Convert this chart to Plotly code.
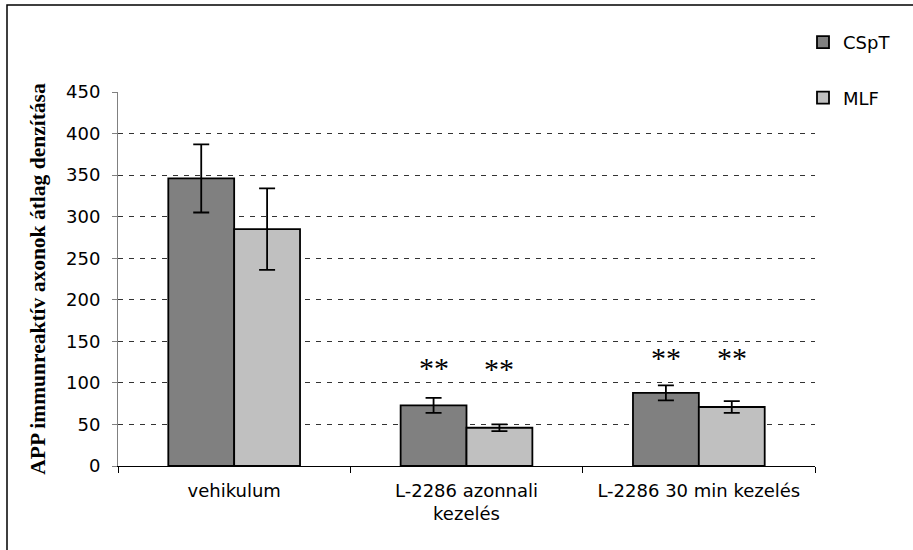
import plotly.graph_objects as go

categories = ["vehikulum", "L-2286 azonnali<br>kezelés", "L-2286 30 min kezelés"]
cspt_values = [346, 73, 88]
cspt_errors = [41, 9, 9]
mlf_values = [285, 46, 71]
mlf_errors = [49, 4, 7]
star_labels_cspt = ["", "**", "**"]
star_labels_mlf = ["", "**", "**"]
star_y_cspt = [None, 119, 130]
star_y_mlf = [None, 117, 131]
y_ticks = [0, 50, 100, 150, 200, 250, 300, 350, 400, 450]

fig = go.Figure()
fig.add_trace(go.Bar(
    name="CSpT", x=categories, y=cspt_values,
    marker=dict(color="#808080", line=dict(color="#000000", width=1.8)),
    error_y=dict(type="data", array=cspt_errors, color="#000000", thickness=1.8, width=8),
    legendgroup="a",
))
fig.add_trace(go.Bar(
    name="MLF", x=categories, y=mlf_values,
    marker=dict(color="#C0C0C0", line=dict(color="#000000", width=1.8)),
    error_y=dict(type="data", array=mlf_errors, color="#000000", thickness=1.8, width=8),
    legendgroup="b",
))

off = 0.1415
for i in range(len(categories)):
    if star_labels_cspt[i]:
        fig.add_annotation(x=i - off, y=star_y_cspt[i], xref="x", yref="y", text=star_labels_cspt[i],
                           showarrow=False, font=dict(family="Liberation Serif", size=30, color="#000"))
    if star_labels_mlf[i]:
        fig.add_annotation(x=i + off, y=star_y_mlf[i], xref="x", yref="y", text=star_labels_mlf[i],
                           showarrow=False, font=dict(family="Liberation Serif", size=30, color="#000"))

# outer border
W, H = 913, 550
l, r, t, b = 118, 98, 92, 84
pw, ph = W - l - r, H - t - b
def px(xp):
    return (xp - l) / pw
def py(yp):
    return (H - b - yp) / ph
fig.add_shape(type="rect", xref="paper", yref="paper",
              x0=px(7), x1=px(925), y0=py(562), y1=py(5),
              line=dict(color="#000000", width=1.5), fillcolor="rgba(0,0,0,0)")

fig.update_layout(
    width=W, height=H,
    margin=dict(l=l, r=r, t=t, b=b),
    paper_bgcolor="white", plot_bgcolor="white",
    barmode="group", bargap=0.433, bargroupgap=0,
    font=dict(family="DejaVu Sans", size=18, color="#000"),
    legend=dict(x=px(803), y=py(24), xanchor="left", yanchor="top",
                tracegroupgap=29, font=dict(size=18), bgcolor="rgba(0,0,0,0)"),
    xaxis=dict(type="category", tickson="boundaries", ticks="outside", ticklen=6,
               tickcolor="#000", showline=True, linecolor="#000", linewidth=1,
               showgrid=False, range=[-0.5, 2.5], tickfont=dict(size=18),
               ticklabelstandoff=8),
    yaxis=dict(range=[0, 450], tickvals=y_ticks, ticks="outside", ticklen=5,
               tickcolor="#808080", showline=True, linecolor="#808080", linewidth=1,
               showgrid=True, gridcolor="#333333", gridwidth=1, griddash="5px,6px",
               zeroline=False, tickfont=dict(size=18), ticklabelstandoff=8,
               title=dict(text="<b>APP immunreaktív axonok átlag denzítása</b>",
                          font=dict(family="Liberation Serif", size=21.5, color="#000"),
                          standoff=14)),
)

fig.write_html("out.html")
